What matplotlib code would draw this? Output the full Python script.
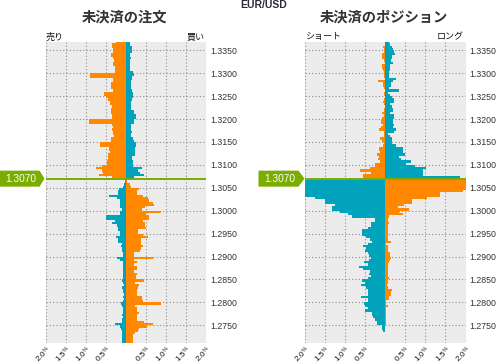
import numpy as np
import matplotlib
matplotlib.use("Agg")
import matplotlib.pyplot as plt
from matplotlib.patches import Polygon
from matplotlib.transforms import blended_transform_factory

# ---------------- data ----------------
current_price = 1.3070
step = 0.0005
# price bins (lower edge): above current price (top -> down) and below
levels_above = np.round(current_price + step * np.arange(59, -1, -1), 4)   # 1.3365 ... 1.3070
levels_below = np.round(current_price - step * np.arange(1, 73), 4)        # 1.3065 ... 1.2710

# Open orders (%)
orders_orange_above = [
    0.24, 0.34, 0.34, 0.32, 0.32, 0.375, 0.375, 0.32, 0.29, 0.32,
    0.32, 0.275, 0.275, 0.275, 0.9, 0.9, 0.33, 0.33, 0.375, 0.375,
    0.375, 0.32, 0.55, 0.55, 0.5, 0.44, 0.4, 0.4, 0.36, 0.375,
    0.375, 0.375, 0.34, 0.36, 0.925, 0.925, 0.36, 0.32, 0.35, 0.32,
    0.32, 0.29, 0.38, 0.38, 0.65, 0.65, 0.425, 0.43, 0.4, 0.44,
    0.44, 0.44, 0.48, 0.48, 0.6, 0.75, 0.6, 0.57, 0.675, 0.34]
orders_teal_above = [
    0.1, 0.1, 0.14, 0.14, 0.14, 0.1, 0.1, 0.125, 0.1, 0.1,
    0.1, 0.1, 0.1, 0.18, 0.2, 0.14, 0.14, 0.125, 0.125, 0.125,
    0.125, 0.15, 0.17, 0.175, 0.175, 0.14, 0.125, 0.125, 0.125, 0.125,
    0.2, 0.2, 0.25, 0.25, 0.2, 0.2, 0.125, 0.125, 0.125, 0.15,
    0.125, 0.125, 0.18, 0.2, 0.25, 0.25, 0.225, 0.225, 0.22, 0.22,
    0.15, 0.15, 0.175, 0.175, 0.17, 0.39, 0.3, 0.35, 0.45, 0.2]
orders_teal_below = [
    0.02, 0.025, 0.04, 0.07, 0.175, 0.19, 0.19, 0.425, 0.22, 0.15,
    0.15, 0.15, 0.15, 0.11, 0.15, 0.15, 0.5, 0.5, 0.275, 0.34,
    0.22, 0.19, 0.19, 0.15, 0.15, 0.25, 0.19, 0.19, 0.11, 0.125,
    0.11, 0.11, 0.08, 0.08, 0.22, 0.15, 0.07, 0.07, 0.07, 0.07,
    0.07, 0.07, 0.07, 0.07, 0.09, 0.07, 0.05, 0.09, 0.07, 0.07,
    0.05, 0.07, 0.05, 0.08, 0.13, 0.11, 0.07, 0.07, 0.07, 0.09,
    0.07, 0.09, 0.09, 0.275, 0.15, 0.13, 0.11, 0.09, 0.09, 0.09,
    0.09, 0.09]
orders_orange_below = [
    0.03, 0.035, 0.1, 0.12, 0.325, 0.28, 0.28, 0.43, 0.56, 0.58,
    0.68, 0.7, 0.475, 0.41, 0.875, 0.5, 0.575, 0.575, 0.43, 0.48,
    0.475, 0.5, 0.31, 0.31, 0.43, 0.54, 0.37, 0.375, 0.37, 0.42,
    0.37, 0.35, 0.2, 0.2, 0.67, 0.2, 0.28, 0.21, 0.27, 0.28,
    0.2, 0.28, 0.25, 0.25, 0.45, 0.225, 0.33, 0.31, 0.28, 0.28,
    0.27, 0.41, 0.41, 0.43, 0.875, 0.225, 0.27, 0.28, 0.33, 0.27,
    0.27, 0.27, 0.45, 0.68, 0.52, 0.33, 0.31, 0.225, 0.18, 0.18,
    0.18, 0.18]

# Open positions (%)
positions_orange_above = [
    0.0, 0.0, 0.067, 0.025, 0.025, 0.08, 0.08, 0.08, 0.025, 0.01,
    0.09, 0.09, 0.05, 0.025, 0.025, 0.025, 0.01, 0.175, 0.067, 0.067,
    0.04, 0.01, 0.025, 0.04, 0.01, 0.025, 0.067, 0.025, 0.01, 0.025,
    0.025, 0.09, 0.04, 0.08, 0.11, 0.11, 0.067, 0.11, 0.15, 0.025,
    0.04, 0.04, 0.13, 0.09, 0.04, 0.067, 0.15, 0.15, 0.13, 0.21,
    0.15, 0.17, 0.125, 0.25, 0.25, 0.375, 0.625, 0.35, 0.55, 0.55]
positions_teal_above = [
    0.1, 0.12, 0.16, 0.2, 0.22, 0.25, 0.18, 0.18, 0.14, 0.2,
    0.125, 0.125, 0.125, 0.1, 0.1, 0.1, 0.275, 0.2, 0.14, 0.14,
    0.1, 0.35, 0.075, 0.12, 0.175, 0.225, 0.225, 0.12, 0.18, 0.2,
    0.2, 0.125, 0.225, 0.225, 0.2, 0.2, 0.23, 0.19, 0.275, 0.225,
    0.075, 0.125, 0.17, 0.18, 0.17, 0.28, 0.43, 0.43, 0.45, 0.49,
    0.35, 0.39, 0.64, 0.52, 0.75, 1.02, 0.95, 0.93, 0.93, 1.87]
positions_teal_below = [
    2.5, 2.5, 2.5, 2.4, 2.3, 2.3, 2.3, 2.2, 1.75, 1.5,
    1.5, 1.25, 1.32, 1.32, 1.125, 0.94, 0.82, 0.25, 0.25, 0.36,
    0.36, 0.44, 0.57, 0.57, 0.57, 0.48, 0.375, 0.32, 0.425, 0.55,
    0.47, 0.5, 0.425, 0.4, 0.36, 0.4, 0.525, 0.425, 0.65, 0.55,
    0.375, 0.4, 0.36, 0.42, 0.57, 0.5, 0.61, 0.47, 0.44, 0.425,
    0.425, 0.61, 0.425, 0.44, 0.525, 0.5, 0.425, 0.51, 0.33, 0.33,
    0.3, 0.25, 0.21, 0.21, 0.07, 0.07, 0.05, 0.0, 0.0, 0.0,
    0.0, 0.0]
positions_orange_below = [
    2.5, 2.5, 2.5, 2.2, 2.2, 1.95, 1.37, 1.37, 1.04, 0.67,
    0.67, 0.475, 0.325, 0.6, 0.35, 0.45, 0.1, 0.08, 0.08, 0.1,
    0.06, 0.075, 0.075, 0.075, 0.06, 0.075, 0.06, 0.14, 0.03, 0.06,
    0.08, 0.08, 0.12, 0.13, 0.14, 0.12, 0.1, 0.075, 0.06, 0.065,
    0.06, 0.06, 0.075, 0.1, 0.075, 0.06, 0.04, 0.075, 0.16, 0.14,
    0.14, 0.1, 0.1, 0.02, 0.03, 0.06, 0.03, 0.03, 0.02, 0.02,
    0.03, 0.02, 0.02, 0.02, 0.0, 0.0, 0.0, 0.0, 0.0, 0.0,
    0.0, 0.0]

price_ticks = [1.2750, 1.2800, 1.2850, 1.2900, 1.2950, 1.3000, 1.3050,
               1.3100, 1.3150, 1.3200, 1.3250, 1.3300, 1.3350]
pct_ticks = [-2.0, -1.5, -1.0, -0.5, 0.5, 1.0, 1.5, 2.0]
pct_labels = ["2.0", "1.5", "1.0", "0.5", "0.5", "1.0", "1.5", "2.0"]

titles = ["未決済の注文", "未決済のポジション"]
side_labels = [("売り", "買い"), ("ショート", "ロング")]
pair_title = "EUR/USD"

# ---------------- style ----------------
ORANGE = "#ff8800"
TEAL = "#00a3bb"
GREEN = "#7aad00"
BG = "#ececec"
TXT = "#333333"
W, H = 497, 364
CJK = ["Noto Sans CJK JP", "DejaVu Sans"]
LAT = ["Liberation Sans", "DejaVu Sans"]
plt.rcParams["font.family"] = LAT
plt.rcParams["mathtext.fontset"] = "custom"
plt.rcParams["mathtext.rm"] = "Liberation Sans"
plt.rcParams["mathtext.it"] = "Liberation Sans"
plt.rcParams["mathtext.bf"] = "Liberation Sans:bold"

fig = plt.figure(figsize=(W / 100, H / 100), dpi=100)
fig.patch.set_facecolor("white")

panels = [
    (45.7, orders_orange_above, orders_teal_above, orders_teal_below, orders_orange_below),
    (305.0, positions_orange_above, positions_teal_above, positions_teal_below, positions_orange_below),
]
ylo, yhi = 1.27114, 1.33688
ax_w, ax_b, ax_h = 160.5, 21.0, 301.3

for k, (x0, oa, ta, tb, ob) in enumerate(panels):
    ax = fig.add_axes([x0 / W, ax_b / H, ax_w / W, ax_h / H])
    ax.set_facecolor(BG)
    ax.set_xlim(-2, 2)
    ax.set_ylim(ylo, yhi)
    for s in ax.spines.values():
        s.set_visible(False)
    ax.set_axisbelow(True)
    ax.grid(True, color="#8c8c8c", linestyle=(0, (1, 2)), linewidth=0.8)

    kw = dict(height=step, align="edge", linewidth=0, antialiased=False, zorder=2)
    ax.barh(levels_above, -np.array(oa), color=ORANGE, **kw)
    ax.barh(levels_above, np.array(ta), color=TEAL, **kw)
    ax.barh(levels_below, -np.array(tb), color=TEAL, **kw)
    ax.barh(levels_below, np.array(ob), color=ORANGE, **kw)

    ax.axhline(current_price, color=GREEN, lw=1.4, zorder=3)

    ax.set_yticks(price_ticks)
    ax.set_yticklabels([f"{p:.4f}" for p in price_ticks])
    ax.yaxis.tick_right()
    ax.set_xticks(pct_ticks)
    ax.set_xticklabels([lab + r"$^{\%}$" for lab in pct_labels], rotation=45,
                       ha="right", va="top", rotation_mode="anchor")
    ax.tick_params(axis="y", length=0, pad=3, labelsize=6.3, labelcolor=TXT)
    ax.tick_params(axis="x", length=0, pad=0.8, labelsize=5.9, labelcolor="#111111")

    # current price marker
    tr = blended_transform_factory(fig.transFigure, ax.transData)
    hh = 8.0 / (ax_h / (yhi - ylo))
    if k == 0:
        xl, xr, xt = 0.0, 39.5, 44.5
    else:
        xl, xr, xt = 258.5, 298.5, 304.5
    poly = Polygon([(xl / W, current_price - hh), (xr / W, current_price - hh),
                    (xt / W, current_price), (xr / W, current_price + hh),
                    (xl / W, current_price + hh)], closed=True,
                   transform=tr, facecolor=GREEN, edgecolor="none",
                   clip_on=False, zorder=5)
    fig.add_artist(poly)
    fig.text(((xl + xr) / 2 + 1) / W, current_price - 0.00005,
             f"{current_price:.4f}", transform=tr,
             ha="center", va="center", color="white", fontsize=7.3, zorder=6)

    # titles and side labels
    cx = (x0 + ax_w / 2 - 1.5) / W
    fig.text(cx, 1 - 18 / H, titles[k], ha="center", va="center",
             fontsize=10.3, fontweight="bold", family=CJK, color=TXT)
    fig.text(x0 / W, 1 - 41.5 / H, side_labels[k][0], ha="left", va="bottom",
             fontsize=6.5, family=CJK, color="#111111")
    fig.text((x0 + ax_w - 2) / W, 1 - 41.5 / H, side_labels[k][1], ha="right",
             va="bottom", fontsize=6.5, family=CJK, color="#111111")

fig.text(264 / W, 1 - 5.5 / H, pair_title, ha="center", va="center",
         fontsize=7.5, fontweight="bold", color="#2b2b3a")

fig.savefig("out.png", dpi=100, facecolor="white")
